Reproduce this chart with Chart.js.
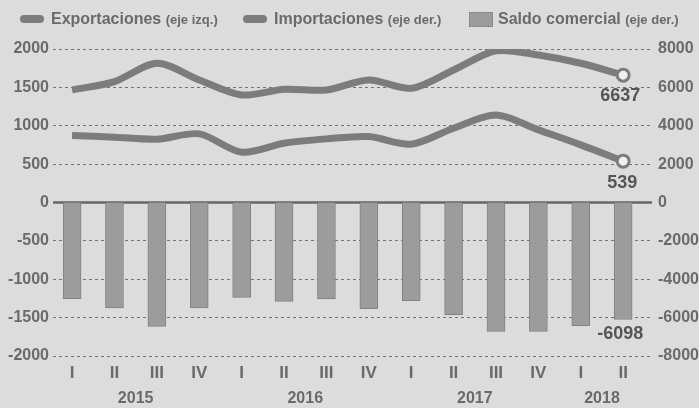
<!DOCTYPE html>
<html>
<head>
<meta charset="utf-8">
<script src="https://cdn.jsdelivr.net/npm/chart.js@4"></script>
<style>
  body { margin: 0; background: #dcdcdc; }
  #wrap { position: relative; width: 699px; height: 408px; }
  #legend { position: absolute; left: 0; top: 5px; width: 699px; height: 28px;
    font-family: 'Liberation Sans', sans-serif; font-weight: bold; color: #6a6a6a; }
  .item { position: absolute; top: 0; white-space: nowrap; font-size: 16px; line-height: 28px; }
  .item small { font-size: 13px; }
  .sym-line { position: absolute; left: -31px; top: 10px; width: 24px; height: 8px; border-radius: 4px; background: #7c7c7c; }
  .sym-box { position: absolute; left: -29px; top: 7px; width: 24px; height: 15px; background: #9c9c9c; border: 1px dotted #777; box-sizing: border-box; }
  canvas { position: absolute; left: 0; top: 0; }
</style>
</head>
<body>
<div id="wrap">
  <canvas id="c" width="699" height="408"></canvas>
  <div id="legend">
    <div class="item" style="left:51px"><span class="sym-line"></span>Exportaciones <small>(eje izq.)</small></div>
    <div class="item" style="left:274px"><span class="sym-line"></span>Importaciones <small>(eje der.)</small></div>
    <div class="item" style="left:498px"><span class="sym-box"></span>Saldo comercial <small>(eje der.)</small></div>
  </div>
</div>
<script>
// trimestres 2015-I .. 2018-II
const quarters = ['I', 'II', 'III', 'IV', 'I', 'II', 'III', 'IV', 'I', 'II', 'III', 'IV', 'I', 'II'];
const years = ['2015', '2016', '2017', '2018'];
const yearPos = [1.5, 5.5, 9.5, 12.5];

const exportaciones = [872, 851, 825, 894, 656, 773, 829, 859, 760, 968, 1141, 946, 751, 539];
const importaciones = [5865, 6300, 7256, 6387, 5605, 5902, 5865, 6387, 5953, 6907, 7911, 7688, 7256, 6637];
const saldo = [-5012, -5497, -6453, -5497, -4945, -5153, -5029, -5533, -5117, -5845, -6714, -6714, -6418, -6098];

const leftTicks = [-2000, -1500, -1000, -500, 0, 500, 1000, 1500, 2000];
const rightTicks = [-8000, -6000, -4000, -2000, 0, 2000, 4000, 6000, 8000];

const gray = '#7c7c7c';
const txt = '#6a6a6a';
const fontFam = "'Liberation Sans', sans-serif";

const toXY = arr => arr.map((v, i) => ({ x: i, y: v }));
const last = quarters.length - 1;

// linea del cero + etiquetas finales
const extras = {
    id: 'extras',
    beforeDatasetsDraw(chart) {
        const ctx = chart.ctx, a = chart.chartArea;
        const y0 = chart.scales.y.getPixelForValue(0);
        ctx.save();
        ctx.strokeStyle = '#666';
        ctx.lineWidth = 2.5;
        ctx.beginPath();
        ctx.moveTo(a.left, y0);
        ctx.lineTo(a.right, y0);
        ctx.stroke();
        ctx.restore();
    },
    afterDatasetsDraw(chart) {
        const ctx = chart.ctx;
        ctx.save();
        ctx.font = 'bold 18px ' + fontFam;
        ctx.fillStyle = '#555';
        ctx.textAlign = 'center';
        ctx.textBaseline = 'middle';
        const p1 = chart.getDatasetMeta(1).data[last];
        ctx.fillText(String(importaciones[last]), p1.x - 3, p1.y + 21);
        const p0 = chart.getDatasetMeta(0).data[last];
        ctx.fillText(String(exportaciones[last]), p0.x - 1, p0.y + 22);
        const b = chart.getDatasetMeta(2).data[last];
        ctx.fillText(String(saldo[last]), b.x - 3, b.y + 15);
        ctx.restore();
    }
};

const pointStyle = arr => ({
    pointRadius: arr.map((v, i) => i === last ? 6 : 0),
    pointBackgroundColor: '#efefef',
    pointBorderColor: gray,
    pointBorderWidth: 3
});

const tickFont = { family: fontFam, weight: 'bold', size: 16 };

new Chart(document.getElementById('c'), {
    data: {
        datasets: [
            Object.assign({ type: 'line', label: 'Exportaciones', data: toXY(exportaciones), yAxisID: 'y',
              borderColor: gray, borderWidth: 7, tension: 0.3, order: 1 }, pointStyle(exportaciones)),
            Object.assign({ type: 'line', label: 'Importaciones', data: toXY(importaciones), yAxisID: 'y2',
              borderColor: gray, borderWidth: 7, tension: 0.3, order: 1 }, pointStyle(importaciones)),
            { type: 'bar', label: 'Saldo comercial', data: toXY(saldo), yAxisID: 'y2',
              backgroundColor: '#9c9c9c', borderColor: '#828282', borderWidth: 1, barThickness: 18, order: 2 }
        ]
    },
    options: {
        responsive: false,
        animation: false,
        layout: { padding: { top: 49, left: 0, right: 0, bottom: 0 } },
        plugins: { legend: { display: false }, tooltip: { enabled: false } },
        scales: {
            x: {
                type: 'linear', min: -0.45, max: 13.68, offset: false,
                afterBuildTicks: s => { s.ticks = quarters.map((q, i) => ({ value: i })); },
                afterFit: s => { s.height = 27; },
                ticks: { callback: (v) => quarters[v], color: txt, font: { family: fontFam, weight: 'bold', size: 17 }, padding: 7, maxRotation: 0, autoSkip: false },
                grid: { display: false, drawTicks: false, offset: false },
                border: { display: false }
            },
            x2: {
                type: 'linear', min: -0.45, max: 13.68, position: 'bottom', offset: false,
                afterBuildTicks: s => { s.ticks = yearPos.map(v => ({ value: v })); },
                afterFit: s => { s.height = 25; },
                ticks: { callback: (v) => years[yearPos.indexOf(v)], color: txt, font: tickFont, padding: 6, maxRotation: 0, autoSkip: false },
                grid: { display: false, drawTicks: false, offset: false },
                border: { display: false }
            },
            y: {
                position: 'left', min: -2000, max: 2000,
                afterBuildTicks: s => { s.ticks = leftTicks.map(v => ({ value: v })); },
                afterFit: s => { s.width = 53; },
                ticks: { callback: v => String(v), color: txt, font: tickFont, padding: 4 },
                grid: { drawTicks: false, color: '#737373', lineWidth: 1 },
                border: { display: false, dash: [3, 3] }
            },
            y2: {
                position: 'right', min: -8000, max: 8000,
                afterBuildTicks: s => { s.ticks = rightTicks.map(v => ({ value: v })); },
                afterFit: s => { s.width = 47; },
                ticks: { callback: v => String(v), color: txt, font: tickFont, padding: 6 },
                grid: { display: false, drawTicks: false },
                border: { display: false }
            }
        }
    },
    plugins: [extras]
});
</script>
</body>
</html>
